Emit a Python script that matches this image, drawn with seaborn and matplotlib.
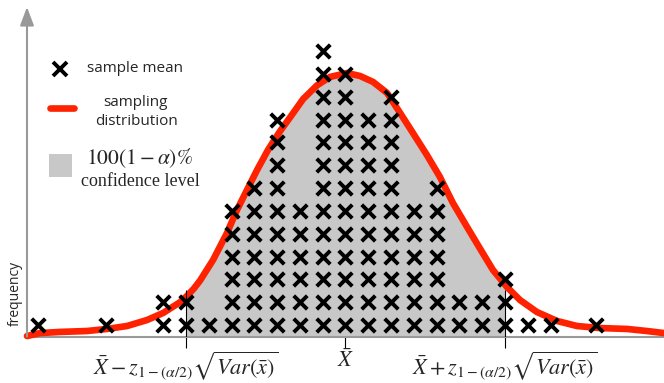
import pandas as pd
import seaborn as sns
import matplotlib.pyplot as plt
from matplotlib.patches import Rectangle

# sample means: position (in units of the dot spacing, 0 = grand mean) and how many fall there
mean_pos = [-13.5, -10.5, -8, -7, -6, -5, -4, -3, -2, -1, 0, 1, 2, 3, 4, 5, 6, 7, 8, 9, 11]
mean_count = [1, 1, 2, 2, 1, 6, 7, 10, 6, 13, 12, 10, 11, 6, 7, 2, 2, 3, 1, 1, 1]

# sampling distribution curve
curve_x = [-13.97, -13.4, -12.52, -11.34, -10.46, -9.58, -8.71, -8.0, -7.26, -6.95,
           -6.65, -6.38, -5.81, -5.2, -4.76, -4.32, -3.88, -3.4, -2.9, -2.43,
           -1.86, -1.25, -0.68, 0.07, 0.64, 1.21, 1.82, 2.39, 2.96, 3.57, 4.14,
           4.71, 5.33, 5.9, 6.47, 7.08, 7.65, 8.4, 9.28, 10.15, 11.16, 12.35,
           13.22, 13.97]
curve_y = [0.02, 0.15, 0.2, 0.24, 0.33, 0.46, 0.72, 1.03, 1.5, 1.78,
           2.1, 2.45, 3.35, 4.53, 5.54, 6.42, 7.29, 8.17, 8.95, 9.6,
           10.4, 11.0, 11.37, 11.54, 11.41, 11.15, 10.67, 9.8, 8.91, 7.95, 6.99,
           5.85, 4.8, 3.85, 2.91, 2.17, 1.6, 1.07, 0.68, 0.46, 0.37, 0.33,
           0.24, 0.15]

ci_lo, x_bar, ci_hi = -7, 0, 7
ci_line_top = 2.05
tick_labels = [r'$\bar{X} - z_{1-(\alpha/2)}\sqrt{Var(\bar{x})}$',
               r'$\bar{X}$',
               r'$\bar{X} + z_{1-(\alpha/2)}\sqrt{Var(\bar{x})}$']

RED = '#ff2200'
FILL = '#c8c8c8'
AXIS = '#999999'

sns.set_theme(style='white')
plt.rcParams['font.family'] = ['Open Sans', 'DejaVu Sans']
plt.rcParams['mathtext.fontset'] = 'stix'

# stack the sample means into a dot plot
rows = []
for pos, n in zip(mean_pos, mean_count):
    for k in range(n):
        rows.append({'mean': pos, 'level': k + 0.5})
dots = pd.DataFrame(rows)
curve = pd.DataFrame({'x': curve_x, 'y': curve_y})

W, H = 664, 383
fig = plt.figure(figsize=(W / 100, H / 100), dpi=100)
ax = fig.add_axes([27 / W, 1 - 336.5 / H, 1 - 27 / W, (336.5 - 7) / H])
ax.set_xlim(-13.97, 13.97)
ax.set_ylim(0, (336.5 - 7) / 22.83)

# shaded confidence region under the curve, cut at the CI bounds
shade = ax.fill_between(curve['x'], 0, curve['y'], color=FILL, lw=0, zorder=1)
shade.set_clip_path(Rectangle((ci_lo, 0), ci_hi - ci_lo, 20, transform=ax.transData))

sns.lineplot(data=curve, x='x', y='y', sort=False, estimator=None, color=RED, lw=4.8,
             ax=ax, zorder=3, solid_capstyle='round', solid_joinstyle='round', clip_on=False)

sns.scatterplot(data=dots, x='mean', y='level', marker='x', color='black', s=95,
                linewidth=2.8, ax=ax, zorder=4, clip_on=False)

ax.vlines([ci_lo, ci_hi], 0, ci_line_top, color='black', lw=0.8, zorder=5)

ax.set_xticks([ci_lo, x_bar, ci_hi])
ax.set_xticklabels(tick_labels, fontsize=16)
ax.set_yticks([])
ax.tick_params(axis='x', bottom=True, length=8, width=0.8, color='black', pad=1)
ax.set_xlabel('')
ax.set_ylabel('frequency', fontsize=10)
ax.yaxis.set_label_coords(-4 / 637, (336.5 - 293) / 329.5)

for s in ['top', 'right', 'left']:
    ax.spines[s].set_visible(False)
ax.spines['bottom'].set_color(AXIS)
ax.spines['bottom'].set_linewidth(1.5)
ax.annotate('', xy=(0, 1), xytext=(0, 0), xycoords='axes fraction',
            arrowprops=dict(arrowstyle='-|>,head_length=0.8,head_width=0.3',
                            color=AXIS, lw=1.5, mutation_scale=14, shrinkA=0, shrinkB=0))

# hand-made legend
def fx(x):
    return x / W

def fy(y):
    return 1 - y / H

fig.add_artist(plt.Line2D([fx(60)], [fy(69)], marker='x', ms=9.7, mew=2.8, color='black'))
fig.text(fx(87), fy(69), 'sample mean', fontsize=11, va='center', ha='left')
fig.add_artist(plt.Line2D([fx(50), fx(74)], [fy(108), fy(108)], lw=4.8, color=RED,
                          solid_capstyle='round'))
fig.text(fx(136), fy(112), 'sampling\ndistribution', fontsize=11, va='center', ha='center',
         linespacing=1.35)
fig.add_artist(plt.Rectangle((fx(49), fy(177)), 23 / W, 23 / H, color=FILL, lw=0))
fig.text(fx(139), fy(158), r'$100(1-\alpha)\%$', fontsize=15.5, va='center', ha='center')
fig.text(fx(140), fy(181), 'confidence level', fontsize=13, va='center', ha='center',
         family='Liberation Serif')

fig.savefig('out.png', dpi=100)
